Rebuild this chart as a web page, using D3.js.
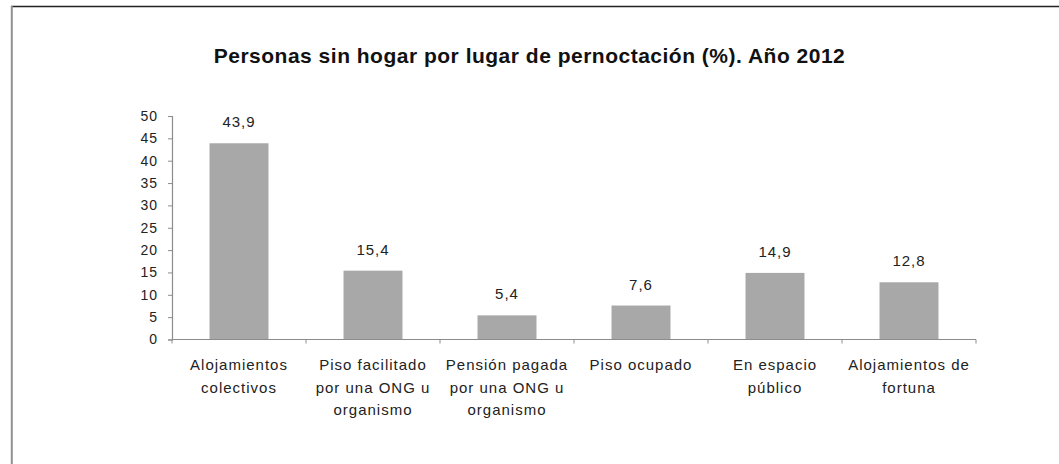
<!DOCTYPE html>
<html lang="es">

<head>
  <meta charset="UTF-8">
  <title>Personas sin hogar por lugar de pernoctación</title>
  <script src="https://d3js.org/d3.v7.min.js"></script>
  <style>
    body {
      margin: 0;
      background: #fff;
      font-family: "Liberation Sans", Arial, sans-serif;
    }

    .title {
      font-size: 21px;
      font-weight: bold;
      letter-spacing: 0.5px;
      fill: #111;
    }

    .tick-label {
      font-size: 14px;
      letter-spacing: 1px;
      fill: #222;
    }

    .value-label {
      font-size: 15px;
      letter-spacing: 1px;
      fill: #222;
    }

    .cat-label {
      font-size: 15px;
      letter-spacing: 1px;
      fill: #222;
    }
  </style>
</head>

<body>
  <svg class="chart" width="1059" height="464"></svg>

  <script>
    const categories = [
      "Alojamientos\ncolectivos",
      "Piso facilitado\npor una ONG u\norganismo",
      "Pensión pagada\npor una ONG u\norganismo",
      "Piso ocupado",
      "En espacio\npúblico",
      "Alojamientos de\nfortuna"
    ];
    const values = [43.9, 15.4, 5.4, 7.6, 14.9, 12.8];
    const yTicks = [0, 5, 10, 15, 20, 25, 30, 35, 40, 45, 50];
    const title = "Personas sin hogar por lugar de pernoctación (%). Año 2012";

    const data = categories.map((c, i) => ({ category: c, value: values[i] }));

    const svg = d3.select(".chart");
    const fmt = v => String(v.toFixed(1)).replace(".", ",");

    // frame (top and left edge only, as in the scan)
    svg.append("line")
      .attr("x1", 11).attr("x2", 1059)
      .attr("y1", 6.5).attr("y2", 6.5)
      .attr("stroke", "#222").attr("stroke-width", 1.5);
    svg.append("line")
      .attr("x1", 11.8).attr("x2", 11.8)
      .attr("y1", 6).attr("y2", 464)
      .attr("stroke", "#909090").attr("stroke-width", 2);

    svg.append("text")
      .attr("class", "title")
      .attr("x", 529.5)
      .attr("y", 63)
      .attr("text-anchor", "middle")
      .text(title);

    const x = d3.scaleBand()
      .domain(categories)
      .range([172, 976])
      .paddingInner(0.56)
      .paddingOuter(0.28);

    const y = d3.scaleLinear()
      .domain([0, 50])
      .range([339.5, 116]);

    // y axis
    const yAxis = svg.append("g")
      .attr("transform", "translate(172,0)")
      .call(d3.axisLeft(y).tickValues(yTicks).tickSize(4).tickPadding(10).tickFormat(d => d));
    yAxis.select(".domain").attr("stroke", "#8c8c8c").attr("stroke-width", 1.2);
    yAxis.selectAll(".tick line").attr("stroke", "#8c8c8c");
    yAxis.selectAll(".tick text")
      .attr("class", "tick-label")
      .attr("font-family", null)
      .attr("font-size", null);

    // bars
    svg.selectAll(".bar")
      .data(data)
      .enter()
      .append("rect")
      .attr("class", "bar")
      .attr("x", d => x(d.category))
      .attr("y", d => y(d.value))
      .attr("width", x.bandwidth())
      .attr("height", d => y(0) - y(d.value))
      .attr("fill", "#a8a8a8");

    // x axis line with ticks between categories
    svg.append("line")
      .attr("x1", x.range()[0]).attr("x2", x.range()[1])
      .attr("y1", y(0)).attr("y2", y(0))
      .attr("stroke", "#8c8c8c").attr("stroke-width", 1.2);

    const bounds = categories.map(c => x(c) - x.step() * x.paddingInner() / 2)
      .concat([x.range()[1]]);
    svg.selectAll(".xtick")
      .data(bounds)
      .enter()
      .append("line")
      .attr("class", "xtick")
      .attr("x1", d => d).attr("x2", d => d)
      .attr("y1", y(0)).attr("y2", y(0) + 4)
      .attr("stroke", "#8c8c8c");

    // value labels
    svg.selectAll(".value-label")
      .data(data)
      .enter()
      .append("text")
      .attr("class", "value-label")
      .attr("x", d => x(d.category) + x.bandwidth() / 2)
      .attr("y", d => y(d.value) - 16)
      .attr("text-anchor", "middle")
      .text(d => fmt(d.value));

    // category labels
    const catText = svg.selectAll(".cat-label")
      .data(data)
      .enter()
      .append("text")
      .attr("class", "cat-label")
      .attr("text-anchor", "middle");

    catText.selectAll("tspan")
      .data(d => d.category.split("\n").map(line => ({ line, cx: x(d.category) + x.bandwidth() / 2 })))
      .enter()
      .append("tspan")
      .attr("x", d => d.cx)
      .attr("y", (d, i) => 370 + i * 22.5)
      .text(d => d.line);
  </script>

</body>

</html>
